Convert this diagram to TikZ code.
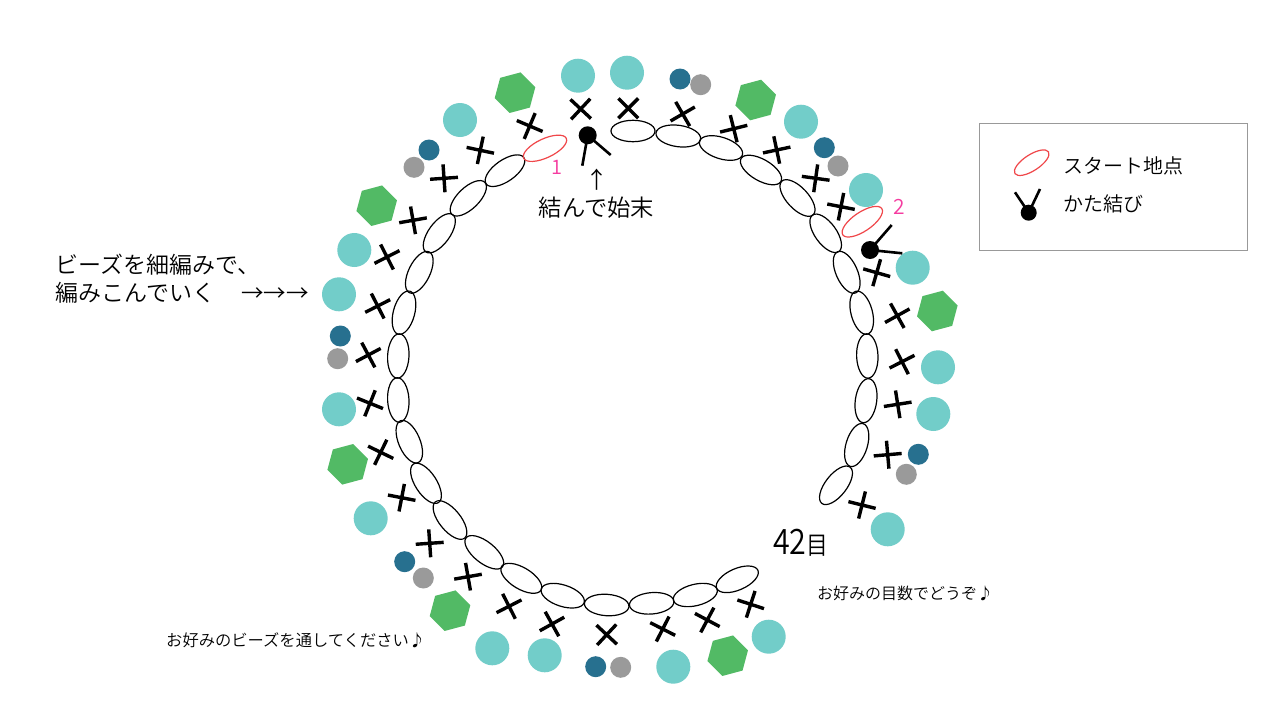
\documentclass[tikz,border=0pt]{standalone}
\usepackage{fontspec}
\setmainfont{Noto Sans CJK JP}[UprightFont={* DemiLight}]
\usetikzlibrary{shapes.geometric}
\definecolor{teal1}{HTML}{72CDC9}
\definecolor{navy1}{HTML}{27708F}
\definecolor{gray1}{HTML}{9A9A9A}
\definecolor{green1}{HTML}{52BA65}
\definecolor{red1}{HTML}{F0474A}
\definecolor{pink1}{HTML}{F53CA0}
\definecolor{frame1}{HTML}{999999}
\tikzset{
  link/.style={draw=black,line width=1.2pt},
  redlink/.style={draw=red1,line width=1.2pt},
  crossmark/.style={draw=black,line width=3.4pt},
  knotdot/.style={circle,fill=black,inner sep=0pt,minimum size=#1},
  knotline/.style={draw=black,line width=2.6pt},
  label/.style={inner sep=0pt,anchor=base west,text=black},
}
\newcommand{\fsz}[1]{\fontsize{#1pt}{#1pt}\selectfont}
\newcommand{\hexagonat}[2]{%
  \fill[green1,shift={(#1,#2)}] (15:21pt) -- (75:21pt) -- (135:21pt) -- (195:21pt) -- (255:21pt) -- (315:21pt) -- cycle;}
\begin{document}
\begin{tikzpicture}[x=1pt,y=-1pt]
\useasboundingbox (0,0) rectangle (1280,720);
\fill[white] (0,0) rectangle (1280,720);
% chain
\foreach \px/\py/\ang/\rl in {
 633/131/0/22,678.3/136/-8/22.5,721/148/-18/22.5,761/170/-30/23,797.5/198/-47/23,
 825.7/233.3/-54/22.5,846.7/272.3/-66/22.5,861.7/312.7/-75/22.2,867.3/356/-88/22.2,
 866/400.7/82/22.2,856.7/445/73/22.3,836/485.3/52/23,
 737.3/579.3/23.6/22.5,695.3/595/13.6/22.5,651.7/603.3/5/22.3,606.7/605/-4/22.3,
 562.7/595.7/-18/22.5,521.3/578.3/-31/23,484.3/552.3/-38.5/23.3,450/520/-51/23.3,
 426/483.3/-57/23,409.3/441.7/-67/22.7,398.3/400/-87/22.3,398.3/356/87/22.2,
 404/312.7/75/22.3,419.3/272.3/64/22.7,439.3/233.3/54/23,468.3/198.3/44/23,505/170.7/35/23}
 {\draw[link,shift={(\px,\py)},rotate=\ang] (0,0) ellipse [x radius=\rl pt,y radius=10.7pt];}
% red links
\draw[redlink,shift={(545,148.3)},rotate=25] (0,0) ellipse [x radius=23.5pt,y radius=9.5pt];
\draw[redlink,shift={(862.3,221.7)},rotate=34] (0,0) ellipse [x radius=23.5pt,y radius=9.5pt];
\draw[redlink,shift={(1031.7,162.7)},rotate=33] (0,0) ellipse [x radius=20pt,y radius=8pt];
% crosses
\foreach \px/\py/\ang in {
 580.7/109/47,628.3/108.3/45,682.7/114/30,733.7/128.7/14,776.7/150/12,815.7/178.3/-8,841/206.7/-11,
 876.7/272.7/-16,897.3/315.7/29,902/361.7/27,897.7/404.3/9,887.7/454.7/5,862/505/-14,
 750.7/604.3/-18,707.3/620/-28,662.7/629/-27,606.7/634.7/-43,552/624/29,509/606.3/27,468/576.7/10,
 429.7/543.3/4,401.7/497.7/-11,380.7/452.3/-26,370/403.3/-22,368.3/355/28,377.7/306/27,
 387/257/27,413/220.3/10,444/178.3/4,480.3/150.3/-12,529.7/126/-23}
 {\draw[crossmark,shift={(\px,\py)},rotate=\ang] (-14pt,0pt) -- (14pt,0pt) (0pt,-14pt) -- (0pt,14pt);}
% teal beads
\foreach \px/\py in {
 578/75.7,627/72.7,801/121.7,866/190,912.7/267.7,938/367.3,933.3/414,887.7/529.3,
 768.7/636.7,673.3/666.7,544.7/655.3,492.3/648.3,339/409.3,370.7/518.3,339/294.3,354.3/250,460/120}
 {\fill[teal1] (\px,\py) circle [radius=17pt];}
% small beads
\foreach \px/\py in {680/79,824.3/147.7,918.3/454.3,595.7/666.7,404.7/561.7,340.3/336,429/150}
 {\fill[navy1] (\px,\py) circle [radius=10.5pt];}
\foreach \px/\py in {700.7/84.7,838/166,906.3/474.3,620.7/667.3,423.3/578,337.7/358.7,414/167.3}
 {\fill[gray1] (\px,\py) circle [radius=10.5pt];}
% hexagons
\hexagonat{515}{92.7}
\hexagonat{755.7}{100}
\hexagonat{937.3}{311}
\hexagonat{727.7}{655.7}
\hexagonat{450}{610.7}
\hexagonat{347.7}{464.3}
\hexagonat{376.7}{205.7}
% knots
\node[knotdot=18pt] (k1) at (587.7,135.3) {};
\coordinate (k1a) at (582.3,165.7);
\coordinate (k1b) at (610.7,155);
\draw[knotline] (k1.center) -- (k1a);
\draw[knotline] (k1.center) -- (k1b);
\node[knotdot=18pt] (k2) at (870,250) {};
\coordinate (k2a) at (891.7,225);
\coordinate (k2b) at (902.3,253.3);
\draw[knotline] (k2.center) -- (k2a);
\draw[knotline] (k2.center) -- (k2b);
\node[knotdot=16pt] (k3) at (1028.7,212.7) {};
\coordinate (k3a) at (1015,192.3);
\coordinate (k3b) at (1040,189);
\draw[knotline] (k3.center) -- (k3a);
\draw[knotline] (k3.center) -- (k3b);
% legend frame
\draw[frame1,line width=1pt] (979.3,123.3) rectangle (1247.7,250.3);
% labels
\node[label] (one) at (551,174) {\color{pink1}\fsz{20}1};
\node[label] (two) at (893,214) {\color{pink1}\fsz{21}2};
\node[label] (up) at (585,188) {\fsz{23}↑};
\node[label] (finish) at (538.5,216) {\fsz{23.3}結んで始末};
\node[label] (l1) at (55,273) {\fsz{23}ビーズを細編みで、};
\node[label] (l2) at (55,301) {\fsz{23}編みこんでいく};
\node[label] (arrows) at (241,301) {\fsz{22.5}→→→};
\node[label] (lg1) at (1063,173) {\fsz{20}スタート地点};
\node[label] (lg2) at (1063,211) {\fsz{20}かた結び};
\node[label,xscale=.87] (n42) at (773,554) {\fsz{35}42\fsz{25}目};
\node[label] (t1) at (817,599) {\fsz{16}お好みの目数でどうぞ♪};
\node[label] (t2) at (166,646) {\fsz{16.3}お好みのビーズを通してください♪};
\end{tikzpicture}
\end{document}
